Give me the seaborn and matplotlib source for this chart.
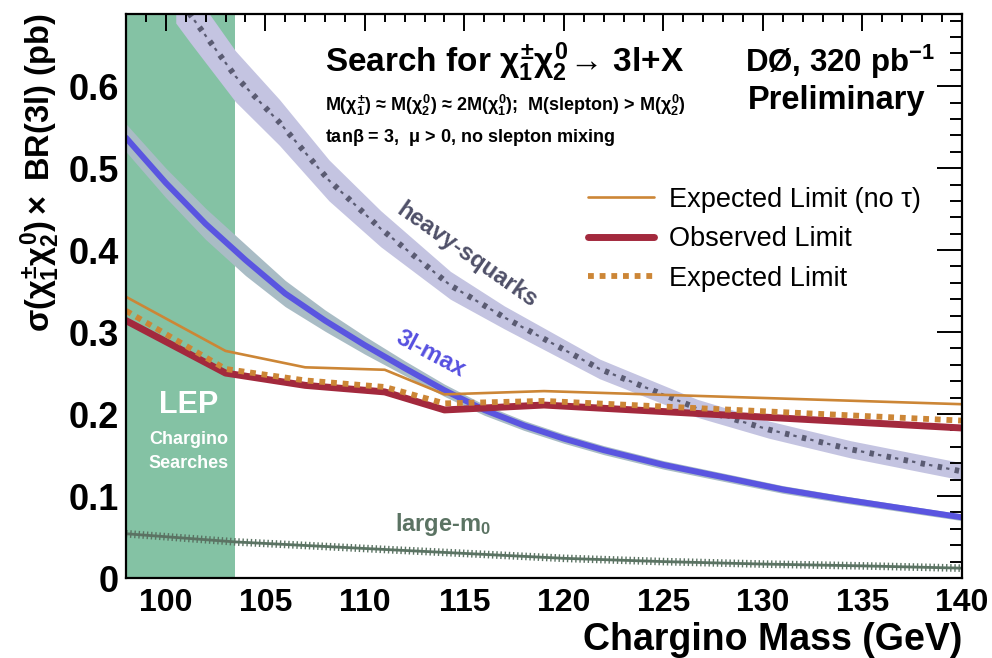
import numpy as np
import pandas as pd
import matplotlib
matplotlib.use("Agg")
import matplotlib.pyplot as plt
import seaborn as sns

# ---------------- data ----------------
mass_lim = [98, 103, 107, 111, 114, 119, 140]
observed = [0.314, 0.250, 0.235, 0.227, 0.205, 0.211, 0.183]
expected = [0.326, 0.255, 0.241, 0.233, 0.213, 0.216, 0.192]
expected_notau = [0.343, 0.277, 0.257, 0.254, 0.224, 0.228, 0.212]

mass_3l = [98, 100, 102, 104, 106, 108, 110, 112, 114, 116, 118, 120, 122, 125, 128, 131, 134, 137, 140]
xsec_3lmax = [0.537, 0.482, 0.432, 0.388, 0.347, 0.314, 0.284, 0.256, 0.229, 0.205, 0.186, 0.170,
              0.156, 0.138, 0.123, 0.108, 0.096, 0.085, 0.074]
band_3lmax = [0.017, 0.018, 0.019, 0.019, 0.016, 0.013, 0.011, 0.009, 0.0075, 0.0065, 0.006, 0.0057,
              0.0055, 0.0052, 0.005, 0.0047, 0.0044, 0.0042, 0.004]

mass_hs = [100.5, 101.2, 103.5, 105.7, 108.2, 110.8, 114.3, 117.0, 121.8, 126.7, 130.3, 134.4, 140]
xsec_heavy = [0.712, 0.688, 0.612, 0.556, 0.485, 0.426, 0.357, 0.318, 0.255, 0.207, 0.181, 0.157, 0.130]
band_heavy = [0.035, 0.034, 0.031, 0.028, 0.025, 0.022, 0.017, 0.014, 0.012, 0.011, 0.0105, 0.0105, 0.0105]

mass_m0 = [98, 103.5, 110, 115, 120, 125, 130, 135, 140]
xsec_m0 = [0.054, 0.044, 0.036, 0.030, 0.024, 0.020, 0.017, 0.0148, 0.012]

lep_range = [98, 103.5]
x_ticks = [100, 105, 110, 115, 120, 125, 130, 135, 140]
y_ticks = [0, 0.1, 0.2, 0.3, 0.4, 0.5, 0.6]

# ---------------- style ----------------
sns.set_style("white")
plt.rcParams["font.family"] = ["Liberation Sans", "DejaVu Sans"]
plt.rcParams["mathtext.fontset"] = "custom"
plt.rcParams["mathtext.rm"] = "Liberation Sans:bold"
plt.rcParams["mathtext.it"] = "Liberation Sans:bold"
plt.rcParams["mathtext.bf"] = "Liberation Sans:bold"
plt.rcParams["mathtext.sf"] = "Liberation Sans:bold"
plt.rcParams["lines.scale_dashes"] = False
for k in ["text.color", "axes.labelcolor", "xtick.color", "ytick.color", "axes.edgecolor"]:
    plt.rcParams[k] = "black"

C_LEP = "#84c2a4"
C_HBAND = "#c4c4e1"
C_HLINE = "#5a5b72"
C_BBAND = "#a9bcc5"
C_BLUE = "#5a55e0"
C_RED = "#a3293d"
C_ORANGE = "#cc8636"
C_M0 = "#5b7363"

fig = plt.figure(figsize=(9.92, 6.58), dpi=100)
ax = fig.add_axes([126 / 992, 1 - 578 / 658, 836 / 992, 564 / 658])

# LEP excluded region
ax.axvspan(lep_range[0], lep_range[1], color=C_LEP, lw=0, zorder=0)

# heavy-squarks band and line
hs = np.array(xsec_heavy); hb = np.array(band_heavy)
ax.fill_between(mass_hs, hs - hb, hs + hb, color=C_HBAND, lw=0, zorder=1)
sns.lineplot(x=mass_hs, y=xsec_heavy, ax=ax, color=C_HLINE, lw=4.2,
             linestyle=(0, (3.2, 9.3)), zorder=2)
sns.lineplot(x=mass_hs, y=xsec_heavy, ax=ax, color=C_HLINE, lw=1.6,
             linestyle=(-6.2, (2.4, 10.1)), zorder=2)

# 3l-max band and line
b3 = np.array(xsec_3lmax); bb = np.array(band_3lmax)
ax.fill_between(mass_3l, b3 - bb, b3 + bb, color=C_BBAND, lw=0, zorder=1)
sns.lineplot(x=mass_3l, y=xsec_3lmax, ax=ax, color=C_BLUE, lw=4.3, zorder=3)

# large-m0 hatched line
sns.lineplot(x=mass_m0, y=xsec_m0, ax=ax, color=C_M0, lw=2.0, zorder=3)
sns.lineplot(x=mass_m0, y=xsec_m0, ax=ax, color=C_M0, lw=5.5,
             linestyle=(0, (1.0, 2.0)), zorder=3)

# limits
sns.lineplot(x=mass_lim, y=expected_notau, ax=ax, color=C_ORANGE, lw=1.9, zorder=4,
             label="Expected Limit (no τ)")
sns.lineplot(x=mass_lim, y=observed, ax=ax, color=C_RED, lw=5.0, zorder=4,
             label="Observed Limit")
sns.lineplot(x=mass_lim, y=expected, ax=ax, color=C_ORANGE, lw=4.2, zorder=5,
             linestyle=(0, (4.2, 4.2)), label="Expected Limit")

ax.set_xlim(98, 140)
ax.set_ylim(0, 0.688)
ax.set_xticks(x_ticks)
ax.set_yticks(y_ticks)
ax.set_xticks(np.arange(98, 141, 1), minor=True)
ax.set_yticks(np.arange(0, 0.69, 0.02), minor=True)
ax.set_yticklabels(["0" if v == 0 else f"{v:.1f}" for v in y_ticks])
ax.set_xticklabels([str(v) for v in x_ticks])

for sp in ax.spines.values():
    sp.set_linewidth(1.6)
    sp.set_color("black")
    sp.set_zorder(10)
ax.set_axisbelow(False)
ax.tick_params(which="both", direction="in", top=True, right=True, width=1.4, color="black")
ax.tick_params(axis="x", which="major", length=12, labelsize=23, pad=7)
ax.tick_params(axis="x", which="minor", length=6)
ax.tick_params(axis="y", which="major", length=18, labelsize=26, pad=5)
ax.tick_params(axis="y", which="minor", length=9)
for lab in ax.get_xticklabels() + ax.get_yticklabels():
    lab.set_fontweight("bold")

ax.set_xlabel("Chargino Mass (GeV)", fontsize=27, fontweight="bold", loc="right", labelpad=3)
ax.set_ylabel("$\\sigma(\\chi_1^{\\pm}\\chi_2^0) \\times$ BR(3l) (pb)", fontsize=23.5,
              fontweight="bold", loc="top", labelpad=5)

# legend
ax.legend(loc="upper left", bbox_to_anchor=(574 / 992, 1 - 173 / 658),
          bbox_transform=fig.transFigure, frameon=False, fontsize=19.5,
          handlelength=2.45, handletextpad=0.55, labelspacing=0.5, borderpad=0)

# header texts
fig.text(325 / 992, 1 - 62 / 658, "Search for $\\chi_1^{\\pm}\\chi_2^0\\!\\rightarrow\\!$ 3l+X",
         fontsize=24, fontweight="bold", va="center", ha="left")
fig.text(745 / 992, 1 - 62 / 658, "DØ, 320 pb$^{\\mathregular{-1}}$", fontsize=22.5,
         fontweight="bold", va="center", ha="left")
fig.text(748 / 992, 1 - 101 / 658, "Preliminary", fontsize=23.5, fontweight="bold",
         va="center", ha="left")
fig.text(325 / 992, 1 - 105 / 658,
         "M($\\chi_1^{\\pm}$) ≈ M($\\chi_2^0$) ≈ 2M($\\chi_1^0$);  M(slepton) > M($\\chi_2^0$)",
         fontsize=13, fontweight="bold", va="center", ha="left")
fig.text(325 / 992, 1 - 138 / 658, "tan$\\beta$ = 3,  $\\mu$ > 0, no slepton mixing",
         fontsize=13, fontweight="bold", va="center", ha="left")

# curve labels
fig.text(467 / 992, 1 - 255 / 658, "heavy-squarks", fontsize=17, fontweight="bold",
         color="#4f5068", rotation=-35, ha="center", va="center", rotation_mode="anchor")
fig.text(431 / 992, 1 - 354 / 658, "3l-max", fontsize=17, fontweight="bold",
         color="#5650e0", rotation=-28, ha="center", va="center", rotation_mode="anchor")
fig.text(443 / 992, 1 - 525 / 658, "large-m$_0$", fontsize=17, fontweight="bold",
         color=C_M0, ha="center", va="center")
fig.text(189 / 992, 1 - 405 / 658, "LEP", fontsize=22, fontweight="bold", color="white",
         ha="center", va="center")
fig.text(189 / 992, 1 - 440 / 658, "Chargino", fontsize=13, fontweight="bold", color="white",
         ha="center", va="center")
fig.text(189 / 992, 1 - 463 / 658, "Searches", fontsize=13, fontweight="bold", color="white",
         ha="center", va="center")

fig.savefig("out.png", dpi=100)
